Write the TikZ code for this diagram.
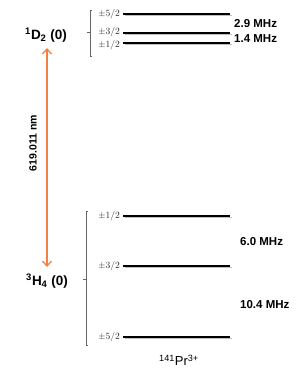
\documentclass[tikz,border=0pt]{standalone}
\usepackage{fontspec}
\setsansfont{Liberation Sans}
\usetikzlibrary{arrows.meta}
\definecolor{arr}{RGB}{240,128,70}
\begin{document}
\begin{tikzpicture}[x=1pt,y=-1pt,
  lev/.style={line width=1.8pt,black},
  shad/.style={line width=1.6pt,black!25},
  ml/.style={anchor=east,inner sep=0pt,font=\fontsize{9.5}{11}\selectfont,text=black!85},
  mhz/.style={anchor=west,inner sep=0pt,font=\sffamily\bfseries\fontsize{11.5}{13}\selectfont},
  term/.style={inner sep=0pt,font=\sffamily\bfseries\fontsize{13.5}{15}\selectfont},
  brk/.style={line width=0.5pt,black!60}]
\useasboundingbox (0,0) rectangle (304,384);
% levels
\foreach \n/\y in {u5/14,u3/33,u1/43,g1/216,g3/266,g5/337}{
  \draw[shad] (125,\y+1.6) -- (232,\y+1.6);
  \coordinate (\n a) at (123,\y);
  \coordinate (\n b) at (230,\y);
  \draw[lev] (\n a) -- (\n b);
}
\node[ml] (lu5) at (120,14) {$\pm$5/2};
\node[ml] (lu3) at (120,32) {$\pm$3/2};
\node[ml] (lu1) at (120,45) {$\pm$1/2};
\node[ml] (lg1) at (120,216) {$\pm$1/2};
\node[ml] (lg3) at (120,266) {$\pm$3/2};
\node[ml] (lg5) at (120,337) {$\pm$5/2};
% brackets
\draw[brk] (92,10) -- (90,10) -- (90,56) -- (92,56);
\draw[brk] (90,32) -- (87,32);
\draw[brk] (88,211) -- (86,211) -- (86,345) -- (88,345);
\draw[brk] (86,279) -- (83,279);
% MHz labels
\node[mhz] (m1) at (234,24) {2.9 MHz};
\node[mhz] (m2) at (234,39) {1.4 MHz};
\node[mhz] (m3) at (240,242) {6.0 MHz};
\node[mhz] (m4) at (240,305) {10.4 MHz};
% terms
\node[term] (D) at (46,35) {\textsuperscript{1}D\textsubscript{2} (0)};
\node[term] (H) at (47,281) {\textsuperscript{3}H\textsubscript{4} (0)};
\node[inner sep=0pt,font=\sffamily\fontsize{13}{15}\selectfont] (pr) at (179,360) {\textsuperscript{141}Pr\textsuperscript{3+}};
% arrow
\coordinate (at) at (47,48);
\coordinate (ab) at (47,267);
\draw[arr,line width=1.3pt,{Straight Barb[length=5pt,width=9pt]}-{Straight Barb[length=5pt,width=9pt]}] (at) -- (ab);
\node[rotate=90,inner sep=0pt,font=\sffamily\bfseries\fontsize{10.5}{12}\selectfont] (wl) at (33,143) {619.011 nm};
\end{tikzpicture}
\end{document}
